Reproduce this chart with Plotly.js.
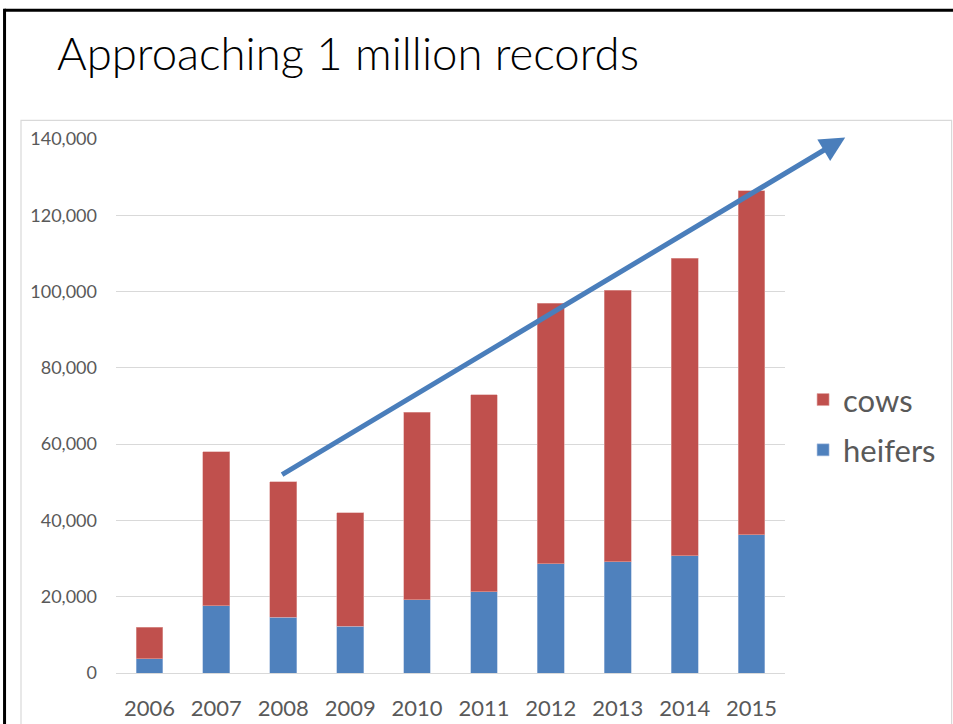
<!DOCTYPE html>
<html>
<head>
<meta charset="utf-8">
<script src="https://cdn.plot.ly/plotly-3.0.1.min.js"></script>
<style>
html,body{margin:0;padding:0;background:#fff;}
#chart{width:953px;height:724px;}
</style>
</head>
<body>
<div id="chart"></div>
<script>
var years = ["2006","2007","2008","2009","2010","2011","2012","2013","2014","2015"];
var heifers = [3700, 17600, 14600, 12300, 19200, 21300, 28600, 29200, 30800, 36200];
var totals = [12000, 58000, 50200, 42000, 68300, 72900, 96900, 100400, 108800, 126400];
var cows = totals.map(function(t, i){ return t - heifers[i]; });
var yTicks = [0, 20000, 40000, 60000, 80000, 100000, 120000, 140000];
var titleText = "Approaching 1 million records";
// trend arrow endpoints (paper coords): tail, head
var arrowTail = [0.246, 0.370];
var arrowHead = [1.090, 1.003];

var red = "#C0504D", blue = "#4F81BD";
var tickFont = {family: "Lato, 'Open Sans', sans-serif", color: "#595959"};

var traces = [
  {type: "bar", name: "heifers", x: years, y: heifers, legendrank: 2,
   marker: {color: blue, line: {color: "#a9c0e0", width: 0.6}}, legendgroup: "h", hoverinfo: "y"},
  {type: "bar", name: "cows", x: years, y: cows, legendrank: 1,
   marker: {color: red, line: {color: "#e0a5a3", width: 0.6}}, legendgroup: "c", hoverinfo: "y"}
];

var layout = {
  width: 953, height: 724,
  paper_bgcolor: "#fff", plot_bgcolor: "#fff",
  margin: {l: 116, r: 168, t: 139.3, b: 50.7, pad: 0},
  barmode: "stack",
  bargap: 0.6,
  title: {text: titleText, x: 57/953, xanchor: "left", xref: "container",
          y: 1 - 54/724, yanchor: "middle", yref: "container",
          font: {family: "Lato, 'Open Sans', sans-serif", size: 45.5, color: "#000", weight: 300}},
  xaxis: {type: "category", range: [-0.5, 9.5], showgrid: false, zeroline: false,
          showline: true, linecolor: "#d9d9d9", linewidth: 1, ticks: "",
          tickfont: Object.assign({size: 22}, tickFont), ticklabelstandoff: 16, fixedrange: true},
  yaxis: {range: [0, 140000], tickvals: yTicks, tickformat: ",d", showgrid: true,
          gridcolor: "#d9d9d9", gridwidth: 1, zeroline: false, showline: false, ticks: "",
          tickfont: Object.assign({size: 18}, tickFont), ticklabelstandoff: 18, fixedrange: true},
  legend: {x: 1.027, xanchor: "left", y: 0.562, yanchor: "top", traceorder: "grouped",
           font: {family: "Lato, 'Open Sans', sans-serif", size: 31, color: "#595959"},
           tracegroupgap: 7, bgcolor: "rgba(0,0,0,0)"},
  showlegend: true,
  shapes: [
    {type: "rect", xref: "paper", yref: "paper", x0: -0.142, x1: 1.249, y0: -0.2, y1: 1.035,
     line: {color: "#d9d9d9", width: 1.2}, layer: "below"},
    {type: "line", xref: "paper", yref: "paper", x0: -0.1666, x1: -0.1666, y0: -0.2, y1: 1.244,
     line: {color: "#000", width: 3}},
    {type: "line", xref: "paper", yref: "paper", x0: -0.1666, x1: 1.3, y0: 1.241, y1: 1.241,
     line: {color: "#000", width: 3}}
  ],
  annotations: [
    {xref: "paper", yref: "paper", axref: "paper", ayref: "paper",
     x: arrowHead[0], y: arrowHead[1], ax: arrowTail[0], ay: arrowTail[1],
     text: "", showarrow: true, arrowhead: 2, arrowsize: 1.0, arrowwidth: 5,
     arrowcolor: "#4A7EBB", standoff: 0, startstandoff: 0}
  ]
};

Plotly.newPlot("chart", traces, layout, {displayModeBar: false, staticPlot: true});
</script>
</body>
</html>
